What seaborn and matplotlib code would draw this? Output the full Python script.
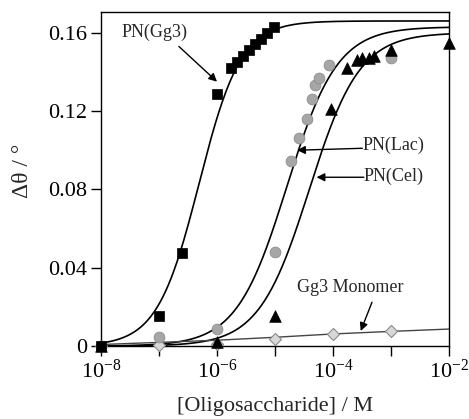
import numpy as np
import matplotlib
matplotlib.use('Agg')
import matplotlib.pyplot as plt
import matplotlib.ticker as mticker
import seaborn as sns

sns.set_style('ticks')
plt.rcParams['font.family'] = ['Liberation Serif', 'DejaVu Serif']
plt.rcParams['mathtext.fontset'] = 'custom'
plt.rcParams['mathtext.rm'] = 'Liberation Serif'
plt.rcParams['mathtext.it'] = 'Liberation Serif:italic'

# measured points (M, degrees)
gg3_conc = [1e-8, 1e-7, 2.5e-7, 1e-6, 1.75e-6, 2.2e-6, 2.8e-6, 3.5e-6, 4.5e-6, 5.75e-6, 7.25e-6, 9.5e-6]
gg3_dtheta = [0.0, 0.0153, 0.0474, 0.1285, 0.1422, 0.1453, 0.148, 0.151, 0.154, 0.1566, 0.160, 0.163]

lac_conc = [1e-8, 1e-7, 1e-6, 1e-5, 1.9e-5, 2.6e-5, 3.5e-5, 4.4e-5, 4.9e-5, 5.8e-5, 8.5e-5, 1e-3]
lac_dtheta = [0.0, 0.0046, 0.0087, 0.048, 0.0943, 0.1065, 0.1157, 0.126, 0.1335, 0.137, 0.1437, 0.147]

cel_conc = [1e-8, 1e-6, 1e-5, 9.2e-5, 1.74e-4, 2.6e-4, 3.2e-4, 4.2e-4, 5.1e-4, 1e-3, 1e-2]
cel_dtheta = [0.0, 0.002, 0.0153, 0.121, 0.142, 0.146, 0.147, 0.147, 0.148, 0.151, 0.155]

mono_conc = [1e-8, 1e-7, 1e-6, 1e-5, 1e-4, 1e-3]
mono_dtheta = [0.0, 0.0005, 0.001, 0.0036, 0.0061, 0.0077]

# fitted binding curves (Kd in M, Rmax in degrees, Hill n)
fits = {'Gg3': (4.9e-7, 0.166, 1.2), 'Lac': (1.6e-5, 0.163, 1.0), 'Cel': (3.9e-5, 0.160, 1.0)}
mono_fit_conc = [1e-8, 1e-6, 1e-5, 1e-4, 1e-3, 1e-2]
mono_fit_dtheta = [0.0008, 0.003, 0.0045, 0.0062, 0.0075, 0.0087]

xticks = [1e-8, 1e-7, 1e-6, 1e-5, 1e-4, 1e-3, 1e-2]
yticks = [0, 0.04, 0.08, 0.12, 0.16]
ytick_labels = ['0', '0.04', '0.08', '0.12', '0.16']

fig = plt.figure(figsize=(4.69, 4.19), dpi=100)
ax = fig.add_axes([0.2154, 0.174, 0.742, 0.797])

conc = np.logspace(-8, -2, 400)
for name, (kd, rmax, n) in fits.items():
    sns.lineplot(x=conc, y=rmax * conc**n / (kd**n + conc**n), ax=ax, color='black', lw=1.2)
sns.lineplot(x=mono_fit_conc, y=mono_fit_dtheta, ax=ax, color='#444444', lw=1.0)

kw = dict(ax=ax, clip_on=False, zorder=5, legend=False)
sns.scatterplot(x=mono_conc, y=mono_dtheta, marker='D', s=38, color='#d8d8d8',
                edgecolor='#8a8a8a', linewidth=0.8, **kw)
sns.scatterplot(x=lac_conc, y=lac_dtheta, marker='o', s=60, color='#a6a6a6',
                edgecolor='#8c8c8c', linewidth=0.6, **kw)
sns.scatterplot(x=cel_conc, y=cel_dtheta, marker='^', s=70, color='black',
                edgecolor='black', linewidth=0.5, **kw)
sns.scatterplot(x=gg3_conc, y=gg3_dtheta, marker='s', s=60, color='black',
                edgecolor='black', linewidth=0.5, **kw)

ax.set_xscale('log')
ax.set_xlim(1e-8, 1e-2)
ax.set_ylim(0, 0.1705)
ax.xaxis.set_major_locator(mticker.FixedLocator(xticks))
ax.xaxis.set_minor_locator(mticker.NullLocator())
ax.xaxis.set_major_formatter(mticker.FuncFormatter(
    lambda v, p: r'$\mathregular{10^{%d}}$' % round(np.log10(v)) if round(np.log10(v)) % 2 == 0 else ''))
ax.set_yticks(yticks)
ax.set_yticklabels(ytick_labels)
ax.tick_params(direction='out', length=7, width=1, labelsize=16, colors='black', pad=3)
for s in ax.spines.values():
    s.set_visible(True)
    s.set_linewidth(1.0)
    s.set_color('black')

ax.set_xlabel('[Oligosaccharide] / M', fontsize=16, labelpad=10)
ax.set_ylabel('Δθ / °', fontsize=17)
ax.yaxis.set_label_coords(-0.195, 0.524)

arrow = dict(arrowstyle='-|>', color='black', lw=1.0, mutation_scale=12, shrinkA=0, shrinkB=0)
ax.text(8.2e-8, 0.160, 'PN(Gg3)', fontsize=13, ha='center', va='center')
ax.annotate('', xy=(1e-6, 0.135), xytext=(2.2e-7, 0.153), arrowprops=arrow)
ax.text(3.2e-4, 0.1025, 'PN(Lac)', fontsize=13, ha='left', va='center')
ax.annotate('', xy=(2.4e-5, 0.100), xytext=(3.2e-4, 0.101), arrowprops=arrow)
ax.text(3.4e-4, 0.0867, 'PN(Cel)', fontsize=13, ha='left', va='center')
ax.annotate('', xy=(5.2e-5, 0.0862), xytext=(3.4e-4, 0.0862), arrowprops=arrow)
ax.text(2.4e-5, 0.030, 'Gg3 Monomer', fontsize=13, ha='left', va='center')
ax.annotate('', xy=(3.0e-4, 0.0077), xytext=(4.7e-4, 0.0224), arrowprops=arrow)

fig.savefig('out.png', dpi=100)
